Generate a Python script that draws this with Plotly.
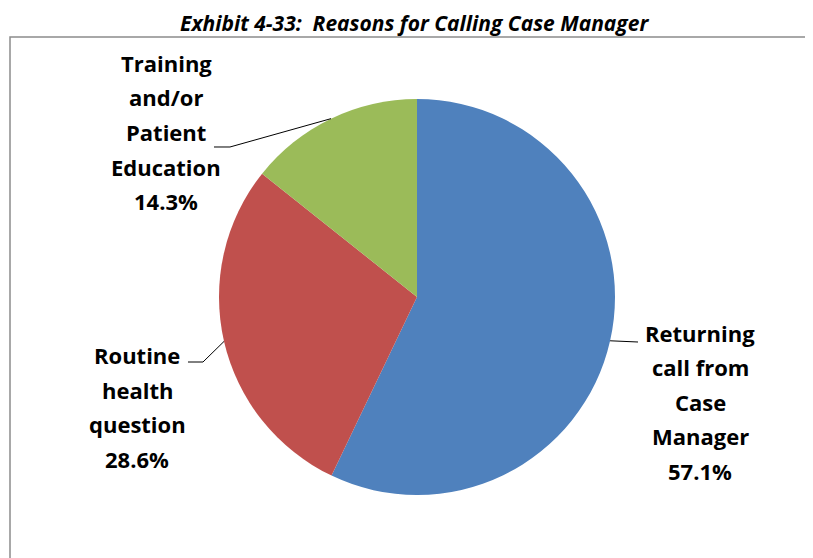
import math
import plotly.graph_objects as go

# ---- data ----
categories = ["Returning call from Case Manager", "Routine health question",
              "Training and/or Patient Education"]
values = [57.1, 28.6, 14.3]
label_lines = [["Returning", "call from", "Case", "Manager"],
               ["Routine", "health", "question"],
               ["Training", "and/or", "Patient", "Education"]]
colors = ["#4F81BD", "#C0504D", "#9BBB59"]
title_text = "Exhibit 4-33:  Reasons for Calling Case Manager"

# ---- layout constants (pixels in the window) ----
W, H = 813, 558
OFF = 8  # default page body margin
CX, CY, R = 417, 297, 198
FONT = "Open Sans"
FS = 22
LINE_H = 34.5
# label block: (center x, first line y), elbow point, end of leader
label_pos = [(700, 333), (137, 355), (166, 63)]
leader_pts = [[(638, 342)], [(203, 362), (188, 362)], [(230, 147), (214, 147)]]


def px(x):
    return (x - OFF) / W


def py(y):
    return 1 - (y - OFF) / H


fig = go.Figure()
fig.add_trace(go.Pie(
    values=values, labels=categories, sort=False, direction="clockwise",
    rotation=0, marker=dict(colors=colors, line=dict(width=0)),
    textinfo="none", hoverinfo="label+percent", showlegend=False,
    domain=dict(x=[px(CX - R), px(CX + R)], y=[py(CY + R), py(CY - R)]),
))

annotations = []
shapes = []
total = sum(values)
cum = 0.0
for i, v in enumerate(values):
    theta = 2 * math.pi * (cum + v / 2) / total
    cum += v
    rim = (CX + R * math.sin(theta), CY - R * math.cos(theta))
    pts = [rim] + leader_pts[i]
    path = "M " + " L ".join(f"{px(x):.5f},{py(y):.5f}" for x, y in pts)
    shapes.append(dict(type="path", path=path, xref="paper", yref="paper",
                       line=dict(color="black", width=1)))
    lines = label_lines[i] + [f"{v:.1f}%"]
    lx, ly = label_pos[i]
    for j, t in enumerate(lines):
        annotations.append(dict(
            text=t, x=px(lx), y=py(ly + j * LINE_H), xref="paper", yref="paper",
            xanchor="center", yanchor="middle", showarrow=False,
            font=dict(family=FONT, size=FS, color="black", weight="bold")))

# title
annotations.append(dict(
    text=title_text, x=px(414), y=py(23), xref="paper", yref="paper",
    xanchor="center", yanchor="middle", showarrow=False,
    font=dict(family=FONT, size=21, color="black", weight="bold",
              style="italic")))

# frame
shapes.append(dict(type="rect", xref="paper", yref="paper",
                   x0=px(10), x1=1.02, y0=-0.02, y1=py(37),
                   line=dict(color="#8C8C8C", width=1.5)))

fig.update_layout(
    width=W, height=H,
    margin=dict(l=0, r=0, t=0, b=0),
    paper_bgcolor="white", plot_bgcolor="white",
    annotations=annotations, shapes=shapes,
)

fig.write_html("out.html")
